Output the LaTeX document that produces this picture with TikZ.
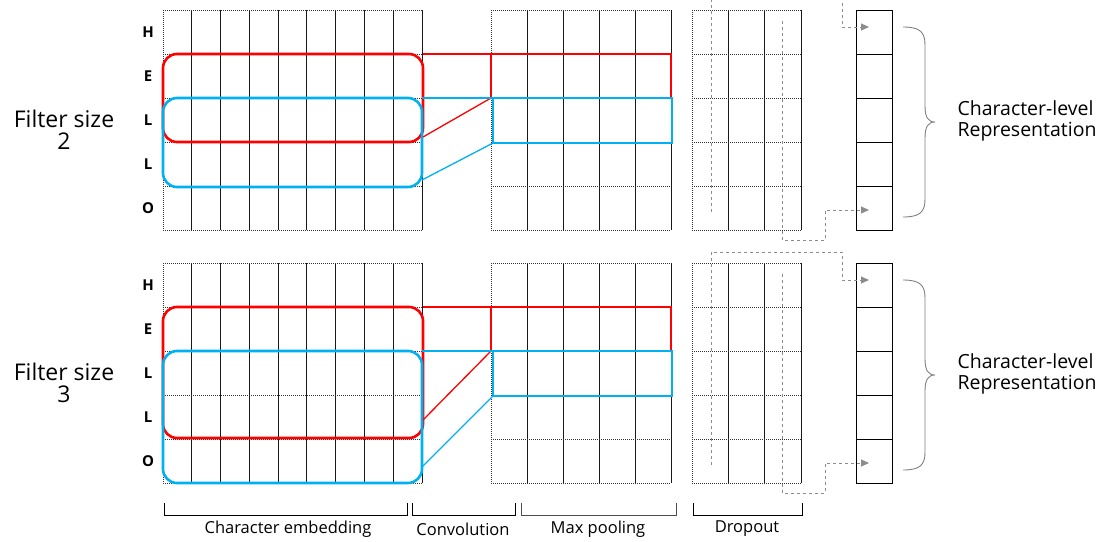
\documentclass[tikz,border=0pt]{standalone}
\usepackage{fontspec}
\setmainfont{Open Sans}
\usetikzlibrary{arrows.meta}
\definecolor{winred}{RGB}{255,0,0}
\definecolor{winblue}{RGB}{0,176,240}

\begin{document}
\begin{tikzpicture}[x=1pt,y=-1pt,
  rowline/.style={line width=1pt,black!80,densely dotted},
  colline/.style={line width=1pt,black!90},
  redwin/.style={draw=winred,line width=2.6pt,rounded corners=14pt,inner sep=0pt,outer sep=0pt,anchor=north west},
  bluewin/.style={draw=winblue,line width=2.6pt,rounded corners=14pt,inner sep=0pt,outer sep=0pt,anchor=north west},
  redrow/.style={draw=winred,line width=1.8pt,inner sep=0pt,outer sep=0pt,anchor=north west},
  bluerow/.style={draw=winblue,line width=2pt,inner sep=0pt,outer sep=0pt,anchor=north west},
  veccell/.style={draw,line width=1pt,minimum width=36pt,minimum height=44pt,inner sep=0pt},
  flow/.style={black!45,dashed,line width=1pt,-{Triangle[length=8pt,width=7pt]}},
  letter/.style={font=\bfseries\fontsize{15}{17}\selectfont},
  caption/.style={font=\fontsize{16.5}{18}\selectfont}]
\path[use as bounding box] (0,0) rectangle (1100,541);

% two panels: filter size 2 and 3
\foreach \oy/\k/\rh/\dr/\db in {0/2/88/5/7, 253/3/131/18/16}{
  % grids: embedding, convolution / max pooling, dropout
  \foreach \gx/\gn/\gw in {163/9/28.78, 491/5/36, 692/3/36.33}{
    \foreach \c in {1,...,\gn}
      \draw[colline] ({\gx+\c*\gw},10+\oy) -- ({\gx+\c*\gw},230+\oy);
    \draw[rowline] (\gx,10+\oy) -- (\gx,230+\oy);
    \foreach \r in {0,...,5}
      \draw[rowline] (\gx,{10+\r*44+\oy}) -- ({\gx+\gn*\gw},{10+\r*44+\oy});
  }
  % output vector
  \foreach \i in {1,...,5}
    \node[veccell] (vec\k-\i) at (874,{-12+44*\i+\oy}) {};
  % characters
  \foreach \ch [count=\i from 0] in {H,E,L,L,O}
    \node[letter] (ch\k-\i) at (148,{32+44*\i+\oy}) {\ch};
  \node[align=center,font=\fontsize{23}{22}\selectfont] (fs\k) at (64,130+\oy) {Filter size\\\k};
  % filter windows
  \node[redwin,minimum width=260pt,minimum height=\rh pt] (red\k) at (163,54+\oy) {};
  \node[bluewin,minimum width=259pt,minimum height={\rh+1}] (blue\k) at (163,98+\oy) {};
  \node[redrow,minimum width=180pt,minimum height=44pt] (cred\k) at (491,54+\oy) {};
  \node[bluerow,minimum width=179pt,minimum height=45pt] (cblue\k) at (493,98+\oy) {};
  \draw[winred,line width=1.3pt] (red\k.north east) -- (cred\k.north west);
  \draw[winred,line width=1.3pt] ([yshift=\dr pt]red\k.south east) -- (cred\k.south west);
  \draw[winblue,line width=1.3pt] (blue\k.north east) -- (cblue\k.north west);
  \draw[winblue,line width=1.3pt] ([yshift=\db pt]blue\k.south east) -- (cblue\k.south west);
  % dropout paths
  \coordinate (dropA\k) at (711,212+\oy);
  \coordinate (dropB\k) at (782,21+\oy);
  \coordinate (inA\k) at (869,27+\oy);
  \coordinate (inB\k) at (869,210+\oy);
  \draw[flow] (dropA\k) -- (711,-1+\oy) -| (842,27+\oy) -- (inA\k);
  \draw[flow] (dropB\k) -- (782,240+\oy) -| (825,210+\oy) -- (inB\k);
  % brace
  \draw[black!50,line width=.9pt] (903,27+\oy) .. controls (920,27+\oy) and (925,32+\oy) .. (925,45+\oy)
    -- (925,106+\oy) .. controls (925,117+\oy) and (928,122+\oy) .. (935,122+\oy)
    .. controls (928,122+\oy) and (925,127+\oy) .. (925,138+\oy)
    -- (925,199+\oy) .. controls (925,212+\oy) and (920,217+\oy) .. (903,217+\oy);
  \node[anchor=west,align=left,font=\fontsize{19.5}{21}\selectfont] (rep\k) at (954,121+\oy) {Character-level\\Representation};
}

% stage brackets
\draw[line width=1pt] (164,503) |- (407,515) -- (407,503);
\draw[line width=1pt] (412,503) |- (515,515) -- (515,503);
\draw[line width=1pt,black!70] (521,503) |- (676,515) -- (676,503);
\draw[line width=1pt] (693,503) |- (802,515) -- (802,503);
\node[caption] (embed) at (288,529) {Character embedding};
\node[caption] (conv) at (463,529) {Convolution};
\node[caption] (pool) at (598,529) {Max pooling};
\node[caption] (drop) at (747,529) {Dropout};
\end{tikzpicture}
\end{document}
